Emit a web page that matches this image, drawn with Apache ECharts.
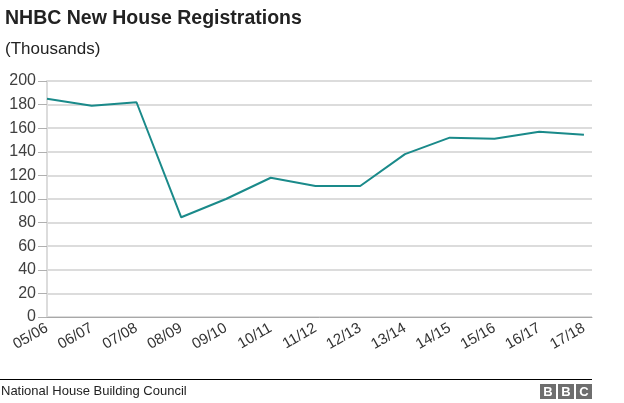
<!DOCTYPE html>
<html>
<head>
<meta charset="utf-8">
<script src="https://cdn.jsdelivr.net/npm/echarts@6/dist/echarts.min.js"></script>
<style>
  html, body { margin: 0; padding: 0; background: #fff; }
  #chart { width: 624px; height: 403px; }
</style>
</head>
<body>
<div id="chart"></div>
<script>
// 数据
const categories = ['05/06', '06/07', '07/08', '08/09', '09/10', '10/11', '11/12', '12/13', '13/14', '14/15', '15/16', '16/17', '17/18'];
const registrations = [185, 179, 182, 84.5, 100, 118, 111, 111, 138, 152, 151, 157, 154.5];
const yTicks = [0, 20, 40, 60, 80, 100, 120, 140, 160, 180, 200];

const chart = echarts.init(document.getElementById('chart'), null, { renderer: 'canvas' });

const font = '"Liberation Sans", Arial, Helvetica, sans-serif';

const option = {
  backgroundColor: '#fff',
  animation: false,
  textStyle: { fontFamily: font },
  title: [
    {
      text: 'NHBC New House Registrations',
      left: 0,
      top: 4,
      textStyle: { fontSize: 19.5, fontWeight: 'bold', color: '#222', fontFamily: font }
    },
    {
      text: '(Thousands)',
      left: 0,
      top: 36,
      textStyle: { fontSize: 17, fontWeight: 'normal', color: '#222', fontFamily: font }
    }
  ],
  grid: {
    left: 47,
    right: 32,
    top: 81,
    bottom: 86,
    containLabel: false
  },
  xAxis: {
    type: 'value',
    min: 0,
    max: 12.18,
    interval: 1,
    axisLine: { show: true, lineStyle: { color: '#a8a8a8', width: 1 } },
    axisTick: { show: false },
    splitLine: { show: false },
    axisLabel: {
      rotate: 30,
      margin: 10,
      fontSize: 15,
      color: '#333',
      fontFamily: font,
      showMaxLabel: false,
      formatter: (v) => categories[Math.round(v)] ?? ''
    }
  },
  yAxis: {
    type: 'value',
    min: 0,
    max: yTicks[yTicks.length - 1],
    interval: 20,
    axisLine: { show: true, lineStyle: { color: '#dcdcdc', width: 2 } },
    axisTick: { show: true, length: 9, lineStyle: { color: '#b0b0b0' } },
    splitLine: { lineStyle: { color: '#dcdcdc', width: 2 } },
    axisLabel: {
      margin: 11,
      fontSize: 16,
      color: '#404040',
      fontFamily: font
    }
  },
  series: [
    {
      type: 'line',
      data: registrations.map((v, i) => [i, v]),
      showSymbol: false,
      lineStyle: { color: '#1a8a8a', width: 2 },
      itemStyle: { color: '#1a8a8a' }
    }
  ],
  graphic: [
    {
      type: 'line',
      shape: { x1: 0, y1: 379.5, x2: 592, y2: 379.5 },
      style: { stroke: '#000', lineWidth: 1 }
    },
    {
      type: 'text',
      left: 1,
      top: 385,
      style: { text: 'National House Building Council', fontSize: 13, fill: '#222', fontFamily: font }
    },
    ...['B', 'B', 'C'].map((ch, i) => ({
      type: 'group',
      left: 540 + i * 18,
      top: 384,
      children: [
        { type: 'rect', shape: { x: 0, y: 0, width: 16, height: 15 }, style: { fill: '#6e6e6e' } },
        { type: 'text', style: { text: ch, x: 8, y: 8, align: 'center', verticalAlign: 'middle', fontSize: 13, fontWeight: 'bold', fill: '#fff', fontFamily: font } }
      ]
    }))
  ]
};

chart.setOption(option);

window.addEventListener('resize', () => chart.resize());
</script>
</body>
</html>
